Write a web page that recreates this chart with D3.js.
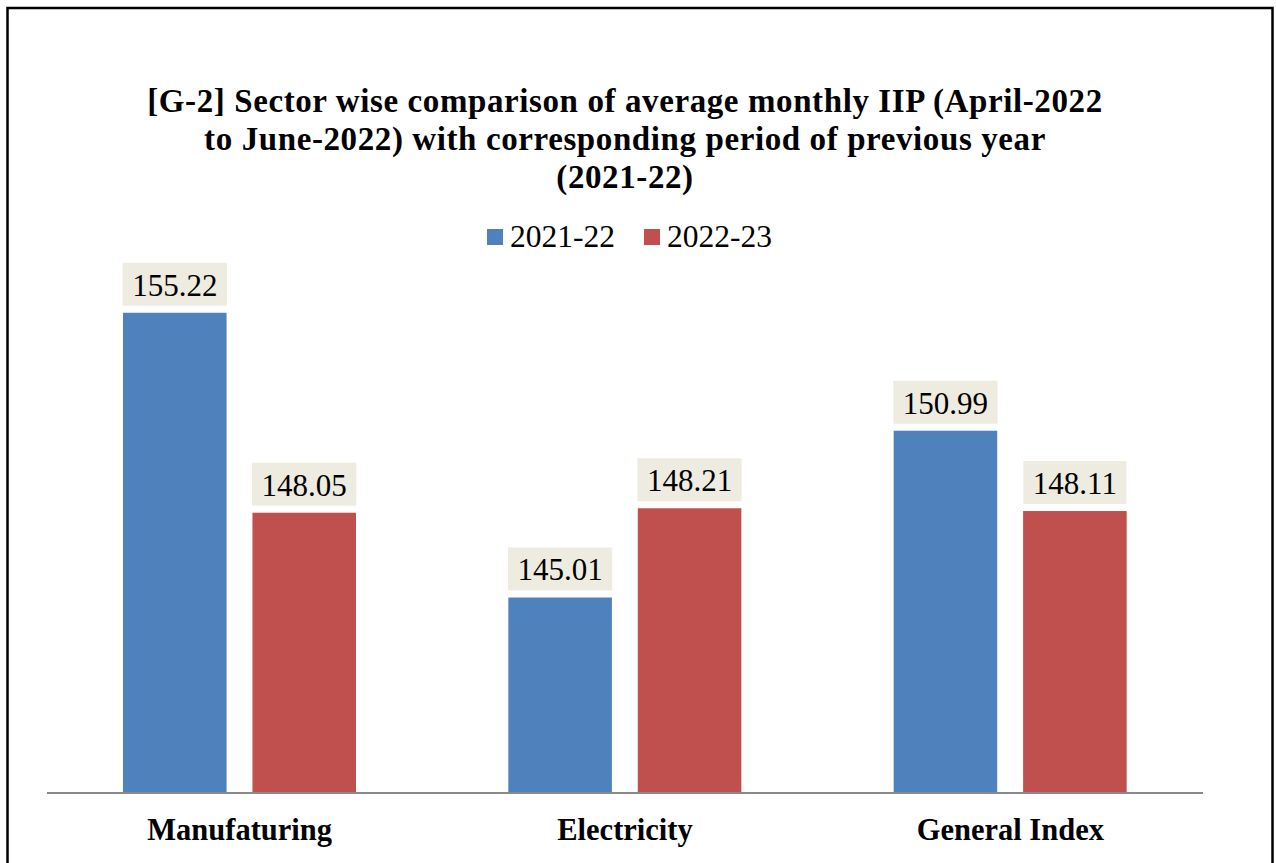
<!DOCTYPE html>
<html>
<head>
<meta charset="utf-8">
<script src="https://cdn.jsdelivr.net/npm/d3@7"></script>
<style>
  body { margin: 0; background: #fff; }
  svg { display: block; }
</style>
</head>
<body>
<svg width="1276" height="863"></svg>
<script>
var categories = ["Manufaturing", "Electricity", "General Index"];
var seriesNames = ["2021-22", "2022-23"];
var values2021 = [155.22, 145.01, 150.99];
var values2022 = [148.05, 148.21, 148.11];
var colors = ["#4F81BD", "#C0504D"];
var titleLines = [
  "[G-2] Sector wise comparison of average monthly IIP (April-2022",
  "to June-2022) with corresponding period of previous year",
  "(2021-22)"
];

var svg = d3.select('svg');
var serif = "'Liberation Serif', 'DejaVu Serif', serif";

// outer frame (bottom edge runs off the picture)
svg.append('rect')
  .attr('x', 7.5).attr('y', 8)
  .attr('width', 1265).attr('height', 900)
  .attr('fill', 'none')
  .attr('stroke', '#000')
  .attr('stroke-width', 2.5);

// title
svg.append('text')
  .attr('text-anchor', 'middle')
  .style('font', 'bold 33px ' + serif)
  .style('letter-spacing', '0.6px')
  .selectAll('tspan')
  .data(titleLines)
  .enter()
  .append('tspan')
  .attr('x', 625)
  .attr('y', function(d, i){ return 112 + i * 38; })
  .text(function(d){ return d; });

// scales
var ScaleX = d3.scaleBand().domain(categories).range([47, 1203]);
var ScaleSeries = d3.scaleBand().domain(seriesNames).range([76, 309]).paddingInner(0.2);
var ScaleY = d3.scaleLinear().domain([138, 156]).range([793, 291]);

var rows = [];
categories.forEach(function(c, i){
  rows.push({cat: c, series: seriesNames[0], value: values2021[i], color: colors[0]});
  rows.push({cat: c, series: seriesNames[1], value: values2022[i], color: colors[1]});
});

// bars
svg.selectAll('.bar')
  .data(rows)
  .enter()
  .append('rect')
  .attr('class', 'bar')
  .attr('x', function(d){ return ScaleX(d.cat) + ScaleSeries(d.series); })
  .attr('y', function(d){ return ScaleY(d.value); })
  .attr('width', ScaleSeries.bandwidth())
  .attr('height', function(d){ return ScaleY(138) - ScaleY(d.value); })
  .attr('fill', function(d){ return d.color; });

// value labels with beige box
var labels = svg.selectAll('.lbl')
  .data(rows)
  .enter()
  .append('g')
  .attr('class', 'lbl');

labels.append('rect')
  .attr('fill', '#EEECE1');

labels.append('text')
  .attr('text-anchor', 'middle')
  .attr('x', function(d){ return ScaleX(d.cat) + ScaleSeries(d.series) + ScaleSeries.bandwidth() / 2; })
  .attr('y', function(d){ return ScaleY(d.value) - 17; })
  .style('font', '31px ' + serif)
  .attr('fill', '#000')
  .text(function(d){ return d.value.toFixed(2); });

labels.each(function(d){
  var g = d3.select(this);
  var w = g.select('text').node().getComputedTextLength() + 19;
  var cx = ScaleX(d.cat) + ScaleSeries(d.series) + ScaleSeries.bandwidth() / 2;
  g.select('rect')
    .attr('x', cx - w / 2)
    .attr('y', ScaleY(d.value) - 50)
    .attr('width', w)
    .attr('height', 43);
});

// baseline
svg.append('line')
  .attr('x1', 47).attr('x2', 1203)
  .attr('y1', 793).attr('y2', 793)
  .attr('stroke', '#898989')
  .attr('stroke-width', 2);

// category labels
svg.selectAll('.cat')
  .data(categories)
  .enter()
  .append('text')
  .attr('class', 'cat')
  .attr('text-anchor', 'middle')
  .attr('x', function(d){ return ScaleX(d) + ScaleX.bandwidth() / 2; })
  .attr('y', 840)
  .style('font', 'bold 30.5px ' + serif)
  .text(function(d){ return d; });

// legend
var legendX = [487, 644];
var legend = svg.selectAll('.leg')
  .data(seriesNames)
  .enter()
  .append('g')
  .attr('class', 'leg')
  .attr('transform', function(d, i){ return 'translate(' + legendX[i] + ',229)'; });
legend.append('rect')
  .attr('width', 16).attr('height', 16)
  .attr('fill', function(d, i){ return colors[i]; });
legend.append('text')
  .attr('x', 23).attr('y', 18)
  .style('font', '31.5px ' + serif)
  .text(function(d){ return d; });
</script>
</body>
</html>
